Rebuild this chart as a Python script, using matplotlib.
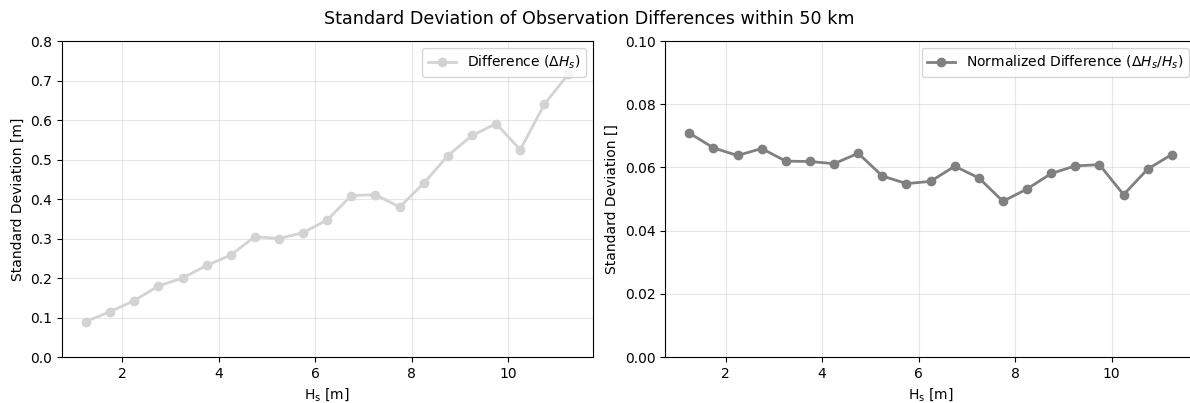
import numpy as np
import matplotlib
matplotlib.use('Agg')
import matplotlib.pyplot as plt

# Hs bin centres [m]
hs_bins = [1.25, 1.75, 2.25, 2.75, 3.25, 3.75, 4.25, 4.75, 5.25, 5.75, 6.25,
           6.75, 7.25, 7.75, 8.25, 8.75, 9.25, 9.75, 10.25, 10.75, 11.25]

# std of the difference [m]
std_diff = [0.090, 0.115, 0.143, 0.180, 0.200, 0.232, 0.258, 0.305, 0.300, 0.315, 0.347,
            0.409, 0.411, 0.380, 0.440, 0.510, 0.561, 0.591, 0.525, 0.640, 0.717]

# std of the normalized difference []
std_norm = [0.0709, 0.0662, 0.0638, 0.0660, 0.0620, 0.0619, 0.0612, 0.0645, 0.0573, 0.0549, 0.0556,
            0.0604, 0.0567, 0.0493, 0.0532, 0.0581, 0.0605, 0.0609, 0.0514, 0.0595, 0.0641]

fig = plt.figure(figsize=(11.9, 4.03), dpi=100)
ax1 = fig.add_axes([0.052, 0.114, 0.446, 0.784])
ax2 = fig.add_axes([0.559, 0.114, 0.446, 0.784])

ax1.plot(hs_bins, std_diff, marker='o', color='lightgray', linewidth=2, markersize=6,
         label=r'Difference ($\Delta H_s$)')
ax1.set_ylim(0, 0.8)
ax1.set_ylabel('Standard Deviation [m]')

ax2.plot(hs_bins, std_norm, marker='o', color='gray', linewidth=2, markersize=6,
         label=r'Normalized Difference ($\Delta H_s/H_s$)')
ax2.set_ylim(0, 0.1)
ax2.set_ylabel('Standard Deviation []')

for ax in (ax1, ax2):
    ax.set_xlabel(r'H$_\mathregular{s}$ [m]')
    ax.grid(True, alpha=0.3)
    ax.legend(loc='upper right')

fig.suptitle('Standard Deviation of Observation Differences within 50 km', fontsize=12.6,
             x=0.4954, y=0.975)

plt.savefig('out.png', dpi=100)
